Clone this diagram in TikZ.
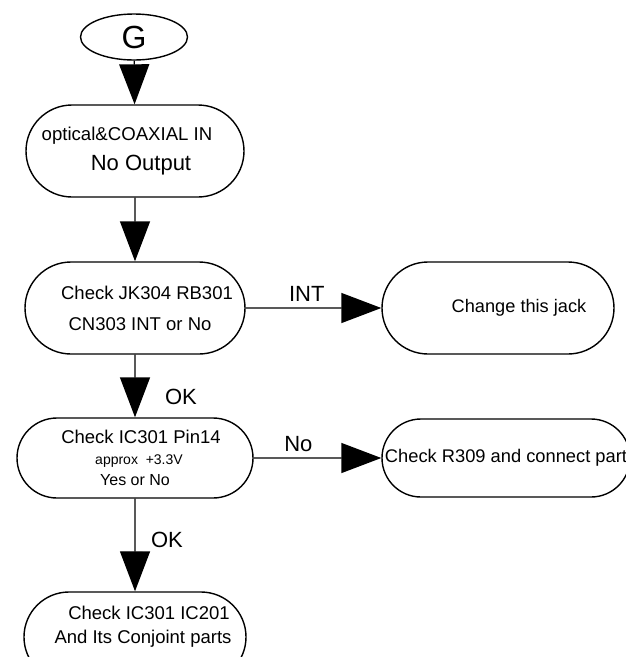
\documentclass[tikz,border=0pt]{standalone}
\usepackage{fontspec}
\setmainfont{Liberation Sans}
\usetikzlibrary{positioning,shapes.misc,shapes.geometric,arrows.meta}

\tikzset{
  flowbox/.style={draw, line width=1.4pt, rounded rectangle, align=center, inner sep=2pt},
  flowarrow/.style={line width=1.4pt, -{Triangle[length=40pt,width=30pt]}},
  lbl/.style={font=\fontsize{22}{26}\selectfont}
}

\begin{document}
\begin{tikzpicture}[x=1pt,y=-1pt]
   \useasboundingbox (0,0) rectangle (626,657);
   \node[draw, line width=1.4pt, ellipse, minimum width=107pt, minimum height=46pt, inner sep=0pt,
         font=\fontsize{32}{36}\selectfont] (g) at (134,37) {G};
   \node[flowbox, minimum width=222pt, minimum height=92pt, font=\fontsize{18.6}{30}\selectfont]
      (in1) at (135,151) {optical\&COAXIAL IN\hspace*{16pt}\\\hspace*{12pt}{\fontsize{22}{30}\selectfont No Output}};
   \node[flowbox, minimum width=224pt, minimum height=92pt, font=\fontsize{18.5}{31}\selectfont]
      (jk) at (135,308) {\hspace*{24pt}Check JK304 RB301\\\hspace*{10pt}CN303 INT or No};
   \node[flowbox, minimum width=236pt, minimum height=92pt, font=\fontsize{18.2}{22}\selectfont]
      (jack) at (498,308) {\hspace*{42pt}Change this jack};
   \node[flowbox, minimum width=240pt, minimum height=80pt, font=\fontsize{18.5}{21}\selectfont]
      (pin) at (135,458) {\hspace*{12pt}Check IC301 Pin14\\\hspace*{8pt}{\fontsize{14}{21}\selectfont approx~~+3.3V}\\{\fontsize{16}{21}\selectfont Yes or No}};
   \node[flowbox, minimum width=252pt, minimum height=78pt, font=\fontsize{18.3}{22}\selectfont]
      (rpart) at (506,458) {\makebox[150pt][c]{Check R309 and connect part}};
   \node[flowbox, minimum width=221pt, minimum height=90pt, text depth=25pt, font=\fontsize{18.5}{24}\selectfont]
      (ic) at (135,637) {\hspace*{28pt}Check IC301 IC201\\\hspace*{16pt}And Its Conjoint parts};
   \path[flowarrow]
   (g) edge (in1)
   (in1) edge (jk)
   (jk) edge node[lbl, above, pos=.45, yshift=2pt] {INT} (jack)
   (jk) edge node[lbl, right=26pt, pos=.68] {OK} (pin)
   (pin) edge node[lbl, above, pos=.35, yshift=2pt] {No} (rpart)
   (pin) edge node[lbl, right=12pt, pos=.45] {OK} (ic);
\end{tikzpicture}
\end{document}
